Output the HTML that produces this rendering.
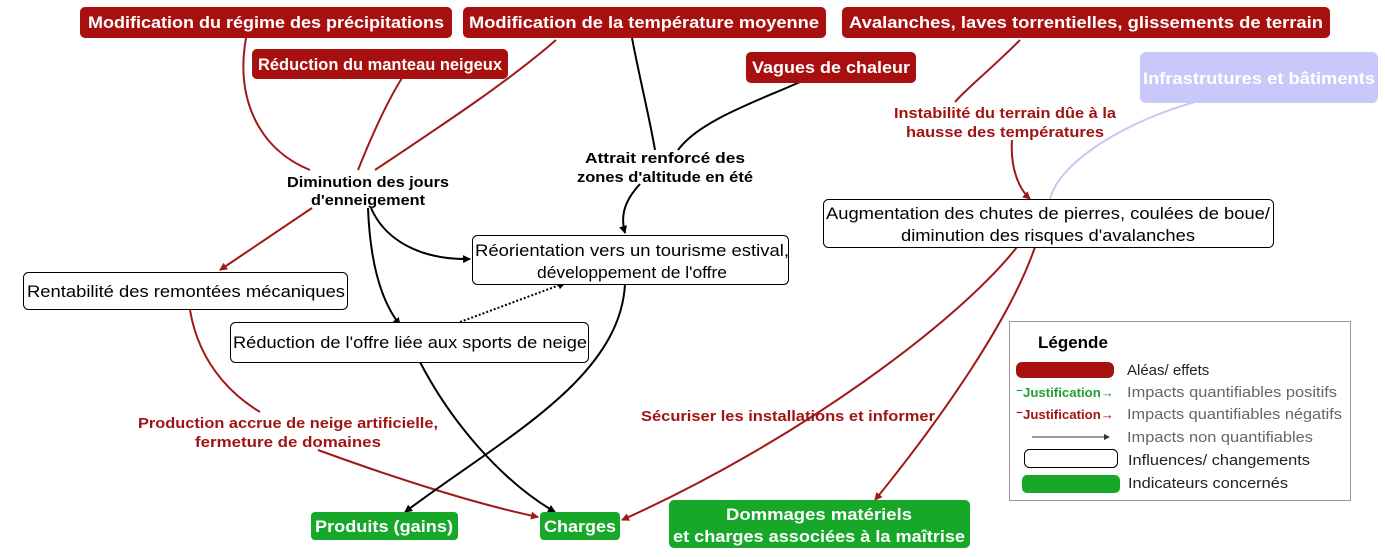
<!DOCTYPE html>
<html><head><meta charset="utf-8"><style>
html,body{margin:0;padding:0;background:#fff;}
svg{display:block;font-family:"Liberation Sans",Arial,sans-serif;}
.rb{fill:#a80f0f;}
.gb{fill:#17a82a;}
.wt{fill:#fff;font-weight:bold;font-size:17px;}
.bt{fill:#000;font-size:17px;}
.bb{fill:#000;font-weight:bold;font-size:15px;}
.rt{fill:#a01414;font-weight:bold;font-size:15px;}
.wb{fill:#fff;stroke:#000;stroke-width:1;}
.rl{fill:none;stroke:#a01818;stroke-width:2;}
.kl{fill:none;stroke:#000;stroke-width:2;}
</style></head><body>
<svg width="1385" height="557" viewBox="0 0 1385 557" xmlns="http://www.w3.org/2000/svg">
<defs>
<marker id="ar" markerWidth="8" markerHeight="8" refX="7" refY="4" orient="auto" markerUnits="userSpaceOnUse"><path d="M0,0 L8,4 L0,8 z" fill="#a01818"/></marker>
<marker id="ak" markerWidth="8" markerHeight="8" refX="7" refY="4" orient="auto" markerUnits="userSpaceOnUse"><path d="M0,0 L8,4 L0,8 z" fill="#000"/></marker>
</defs>

<!-- connectors -->
<path class="rl" d="M246,38 C235,100 260,150 310,170"/>
<path class="rl" d="M402,78 C385,105 370,140 358,170"/>
<path class="rl" d="M556,40 C510,80 450,120 375,170"/>
<path class="kl" d="M632,38 C640,80 650,120 655,150"/>
<path class="kl" d="M800,82 C760,100 700,120 678,150"/>
<path class="kl" d="M640,184 C625,200 620,215 625,233" marker-end="url(#ak)"/>
<path class="rl" d="M312,208 L220,270" marker-end="url(#ar)"/>
<path class="kl" d="M371,208 C385,240 420,260 470,259" marker-end="url(#ak)"/>
<path class="kl" d="M368,208 C370,260 380,300 400,325" marker-end="url(#ak)"/>
<path d="M460,322 L565,283" stroke="#000" stroke-width="2" stroke-dasharray="2,2" fill="none" marker-end="url(#ak)"/>
<path class="rl" d="M190,310 C200,370 240,400 260,412"/>
<path class="rl" d="M318,450 C400,480 480,505 538,517" marker-end="url(#ar)"/>
<path class="kl" d="M625,284 C620,380 500,440 405,512" marker-end="url(#ak)"/>
<path class="kl" d="M420,362 C450,420 500,480 555,512" marker-end="url(#ak)"/>
<path class="rl" d="M1020,40 C990,70 965,90 955,102"/>
<path class="rl" d="M1012,140 C1010,170 1020,190 1030,199" marker-end="url(#ar)"/>
<path d="M1050,199 C1060,160 1130,120 1195,102" fill="none" stroke="#c8c8f0" stroke-width="2"/>
<path class="rl" d="M1017,247 C960,320 800,440 622,520" marker-end="url(#ar)"/>
<path class="rl" d="M1035,247 C1010,320 940,420 875,500" marker-end="url(#ar)"/>

<!-- red boxes -->
<rect class="rb" x="80" y="7" width="372" height="31" rx="5"/>
<text class="wt" x="266" y="28" text-anchor="middle" textLength="356" lengthAdjust="spacingAndGlyphs">Modification du régime des précipitations</text>
<rect class="rb" x="463" y="7" width="363" height="31" rx="5"/>
<text class="wt" x="644" y="28" text-anchor="middle" textLength="350" lengthAdjust="spacingAndGlyphs">Modification de la température moyenne</text>
<rect class="rb" x="842" y="7" width="488" height="31" rx="5"/>
<text class="wt" x="1086" y="28" text-anchor="middle" textLength="474" lengthAdjust="spacingAndGlyphs">Avalanches, laves torrentielles, glissements de terrain</text>
<rect class="rb" x="252" y="49" width="256" height="30" rx="5"/>
<text class="wt" x="380" y="70" text-anchor="middle" textLength="244" lengthAdjust="spacingAndGlyphs">Réduction du manteau neigeux</text>
<rect class="rb" x="746" y="52" width="170" height="31" rx="5"/>
<text class="wt" x="831" y="73" text-anchor="middle" textLength="158" lengthAdjust="spacingAndGlyphs">Vagues de chaleur</text>
<rect x="1140" y="52" width="238" height="51" rx="6" fill="#c8c8fa"/>
<text class="wt" x="1259" y="84" text-anchor="middle" textLength="232" lengthAdjust="spacingAndGlyphs">Infrastrutures et bâtiments</text>

<!-- labels -->
<text class="rt" x="1005" y="118" text-anchor="middle" textLength="222" lengthAdjust="spacingAndGlyphs">Instabilité du terrain dûe à la</text>
<text class="rt" x="1005" y="137" text-anchor="middle" textLength="198" lengthAdjust="spacingAndGlyphs">hausse des températures</text>
<text class="bb" x="368" y="187" text-anchor="middle" textLength="162" lengthAdjust="spacingAndGlyphs">Diminution des jours</text>
<text class="bb" x="368" y="205" text-anchor="middle" textLength="114" lengthAdjust="spacingAndGlyphs">d'enneigement</text>
<text class="bb" x="665" y="163" text-anchor="middle" textLength="160" lengthAdjust="spacingAndGlyphs">Attrait renforcé des</text>
<text class="bb" x="665" y="182" text-anchor="middle" textLength="176" lengthAdjust="spacingAndGlyphs">zones d'altitude en été</text>
<text class="rt" x="288" y="428" text-anchor="middle" textLength="300" lengthAdjust="spacingAndGlyphs">Production accrue de neige artificielle,</text>
<text class="rt" x="288" y="447" text-anchor="middle" textLength="186" lengthAdjust="spacingAndGlyphs">fermeture de domaines</text>
<text class="rt" x="788" y="421" text-anchor="middle" textLength="294" lengthAdjust="spacingAndGlyphs">Sécuriser les installations et informer</text>

<!-- white boxes -->
<rect class="wb" x="823.5" y="199.5" width="450" height="48" rx="5"/>
<text class="bt" x="1048" y="219" text-anchor="middle" textLength="444" lengthAdjust="spacingAndGlyphs">Augmentation des chutes de pierres, coulées de boue/</text>
<text class="bt" x="1048" y="241" text-anchor="middle" textLength="294" lengthAdjust="spacingAndGlyphs">diminution des risques d'avalanches</text>
<rect class="wb" x="472.5" y="235.5" width="316" height="49" rx="5"/>
<text class="bt" x="632" y="256" text-anchor="middle" textLength="314" lengthAdjust="spacingAndGlyphs">Réorientation vers un tourisme estival,</text>
<text class="bt" x="632" y="278" text-anchor="middle" textLength="190" lengthAdjust="spacingAndGlyphs">développement de l'offre</text>
<rect class="wb" x="23.5" y="272.5" width="324" height="37" rx="5"/>
<text class="bt" x="186" y="297" text-anchor="middle" textLength="318" lengthAdjust="spacingAndGlyphs">Rentabilité des remontées mécaniques</text>
<rect class="wb" x="230.5" y="322.5" width="358" height="40" rx="5"/>
<text class="bt" x="410" y="348" text-anchor="middle" textLength="354" lengthAdjust="spacingAndGlyphs">Réduction de l'offre liée aux sports de neige</text>

<!-- green boxes -->
<rect class="gb" x="311" y="512" width="147" height="28" rx="4"/>
<text class="wt" x="384" y="532" text-anchor="middle" textLength="138" lengthAdjust="spacingAndGlyphs">Produits (gains)</text>
<rect class="gb" x="540" y="512" width="80" height="28" rx="4"/>
<text class="wt" x="580" y="532" text-anchor="middle" textLength="72" lengthAdjust="spacingAndGlyphs">Charges</text>
<rect class="gb" x="669" y="500" width="301" height="48" rx="5"/>
<text class="wt" x="819" y="520" text-anchor="middle" textLength="186" lengthAdjust="spacingAndGlyphs">Dommages matériels</text>
<text class="wt" x="819" y="542" text-anchor="middle" textLength="292" lengthAdjust="spacingAndGlyphs">et charges associées à la maîtrise</text>

<!-- legend -->
<rect x="1009.5" y="321.5" width="341" height="179" fill="#fff" stroke="#999" stroke-width="1"/>
<text x="1038" y="348" font-weight="bold" font-size="17" fill="#000">Légende</text>
<rect class="rb" x="1016" y="362" width="98" height="16" rx="6"/>
<text x="1127" y="375" font-size="15" fill="#222">Aléas/ effets</text>
<text x="1016" y="397" font-size="13" font-weight="bold" fill="#22a030" textLength="98" lengthAdjust="spacingAndGlyphs">⁻Justification→</text>
<text x="1127" y="397" font-size="15" fill="#666" textLength="210" lengthAdjust="spacingAndGlyphs">Impacts quantifiables positifs</text>
<text x="1016" y="419" font-size="13" font-weight="bold" fill="#a01414" textLength="98" lengthAdjust="spacingAndGlyphs">⁻Justification→</text>
<text x="1127" y="419" font-size="15" fill="#666" textLength="215" lengthAdjust="spacingAndGlyphs">Impacts quantifiables négatifs</text>
<path d="M1032,437 L1108,437" stroke="#333" stroke-width="1"/><path d="M1104,434 L1110,437 L1104,440z" fill="#333"/>
<text x="1127" y="442" font-size="15" fill="#666" textLength="186" lengthAdjust="spacingAndGlyphs">Impacts non quantifiables</text>
<rect x="1024.5" y="449.5" width="93" height="18" rx="5" fill="#fff" stroke="#000"/>
<text x="1128" y="465" font-size="15" fill="#222" textLength="182" lengthAdjust="spacingAndGlyphs">Influences/ changements</text>
<rect class="gb" x="1022" y="475" width="98" height="18" rx="5"/>
<text x="1128" y="488" font-size="15" fill="#222" textLength="160" lengthAdjust="spacingAndGlyphs">Indicateurs concernés</text>
</svg>
</body></html>
